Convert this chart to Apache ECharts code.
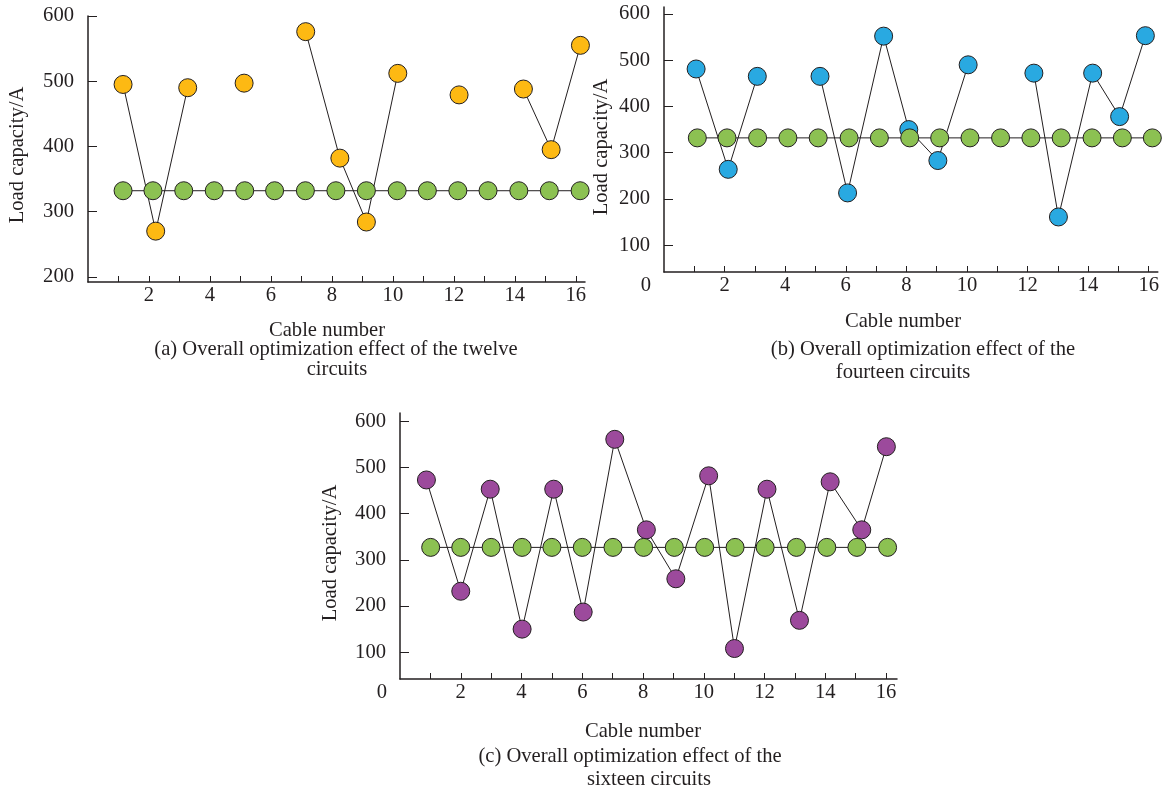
<!DOCTYPE html>
<html>
<head>
<meta charset="utf-8">
<script src="https://cdn.jsdelivr.net/npm/echarts@6/dist/echarts.min.js"></script>
<style>
    html, body { margin: 0; padding: 0; background: #fff; }
    #chart { width: 1162px; height: 791px; }
</style>
</head>
<body>
<div id="chart"></div>
<script>
// tick labels
var xTicks = [1, 2, 3, 4, 5, 6, 7, 8, 9, 10, 11, 12, 13, 14, 15, 16];
var xLabelsA = [2, 4, 6, 8, 10, 12, 14, 16];
var xLabelsBC = [0, 2, 4, 6, 8, 10, 12, 14, 16];
var yLabelsA = [200, 300, 400, 500, 600];
var yLabelsBC = [100, 200, 300, 400, 500, 600];

// (a) twelve circuits
var twelveX = [1.15, 2.22, 3.27, 5.12, 7.14, 8.26, 9.13, 10.16, 12.17, 14.28, 15.19, 16.15];
var twelveY = [495, 270, 490, 497, 576, 382, 284, 512, 479, 488, 395, 555];
var twelveLink = [1, 1, 0, 0, 1, 1, 1, 0, 0, 1, 1, 0]; // 1 = joined to next point
var baseAX = [1.15, 2.13, 3.14, 4.14, 5.14, 6.12, 7.13, 8.13, 9.13, 10.14, 11.13, 12.13, 13.12, 14.13, 15.13, 16.14];
var baseAY = [332, 332, 332, 332, 332, 332, 332, 332, 332, 332, 332, 332, 332, 332, 332, 332];

// (b) fourteen circuits
var fourteenX = [1.06, 2.12, 3.08, 5.15, 6.06, 7.25, 8.08, 9.04, 10.04, 12.21, 13.02, 14.15, 15.04, 15.89];
var fourteenY = [481, 264, 465, 465, 213, 552, 350, 283, 490, 472, 161, 472, 378, 553];
var fourteenLink = [1, 1, 0, 1, 1, 1, 1, 1, 0, 1, 1, 1, 1, 0];
var baseBX = [1.10, 2.08, 3.09, 4.09, 5.09, 6.11, 7.11, 8.11, 9.10, 10.10, 11.11, 12.11, 13.11, 14.13, 15.13, 16.12];
var baseBY = [332, 332, 332, 332, 332, 332, 332, 332, 332, 332, 332, 332, 332, 332, 332, 332];

// (c) sixteen circuits
var sixteenX = [0.87, 2.00, 2.97, 4.02, 5.06, 6.03, 7.07, 8.11, 9.08, 10.16, 11.01, 12.08, 13.15, 14.16, 15.20, 16.01];
var sixteenY = [473, 232, 453, 150, 453, 187, 561, 365, 259, 482, 108, 453, 169, 469, 365, 545];
var baseCX = [1.01, 2.00, 3.00, 4.02, 5.00, 6.00, 7.01, 8.02, 9.03, 10.03, 11.03, 12.02, 13.05, 14.05, 15.04, 16.05];
var baseCY = [327, 327, 327, 327, 327, 327, 327, 327, 327, 327, 327, 327, 327, 327, 327, 327];

var ink = '#231f20';
var serif = 'Liberation Serif, Times New Roman, serif';
var fs = 20.6;

// pair x/y, put an empty point where the line breaks
function pairs(xs, ys, links) {
    var d = [];
    for (var i = 0; i < xs.length; i++) {
        d.push([xs[i], ys[i]]);
        if (links && !links[i] && i < xs.length - 1) d.push([xs[i], '-']);
    }
    return d;
}

function xAxisOf(idx, max, labels) {
    return {
        type: 'value', gridIndex: idx, min: 0, max: max,
        axisLine: { onZero: false, lineStyle: { color: ink, width: 1.5 } },
        axisTick: { inside: true, length: 6, customValues: xTicks, lineStyle: { color: ink, width: 1 } },
        axisLabel: {
            customValues: labels, margin: 3, color: ink, fontFamily: serif, fontSize: fs,
            formatter: function (v) { return v === 0 ? '{z|0}' : String(v); },
            rich: { z: { fontFamily: serif, fontSize: fs, color: ink, padding: [0, 36, 0, 0] } }
        },
        splitLine: { show: false }
    };
}

function yAxisOf(idx, min, max, labels) {
    return {
        type: 'value', gridIndex: idx, min: min, max: max,
        axisLine: { show: true, lineStyle: { color: ink, width: 1.5 } },
        axisTick: { show: true, inside: true, length: 9, customValues: labels, lineStyle: { color: ink, width: 1 } },
        axisLabel: { customValues: labels, margin: 14, color: ink, fontFamily: serif, fontSize: fs },
        splitLine: { show: false }
    };
}

function dots(idx, data, color, z) {
    return {
        type: 'line', xAxisIndex: idx, yAxisIndex: idx, data: data, z: z,
        symbol: 'circle', symbolSize: 18, connectNulls: false,
        lineStyle: { color: ink, width: 1 },
        itemStyle: { color: color, borderColor: ink, borderWidth: 1 }
    };
}

function label(x, y, text, rot) {
    return {
        type: 'text', x: x, y: y, rotation: rot || 0,
        style: { text: text, font: fs + 'px ' + serif, fill: ink, align: 'center', verticalAlign: 'middle' }
    };
}

var option = {
    animation: false,
    backgroundColor: '#fff',
    grid: [
        { left: 88, top: 16, width: 497, height: 266 },
        { left: 664, top: 7, width: 495, height: 265 },
        { left: 400, top: 413, width: 497, height: 266 }
    ],
    xAxis: [
        xAxisOf(0, 16.3, xLabelsA),
        xAxisOf(1, 16.3, xLabelsBC),
        xAxisOf(2, 16.36, xLabelsBC)
    ],
    yAxis: [
        yAxisOf(0, 192, 600, yLabelsA),
        yAxisOf(1, 42, 615, yLabelsBC),
        yAxisOf(2, 42, 618, yLabelsBC)
    ],
    series: [
        dots(0, pairs(twelveX, twelveY, twelveLink), '#fdb913', 2),
        dots(0, pairs(baseAX, baseAY), '#8cc152', 3),
        dots(1, pairs(fourteenX, fourteenY, fourteenLink), '#29a9e1', 2),
        dots(1, pairs(baseBX, baseBY), '#8cc152', 3),
        dots(2, pairs(sixteenX, sixteenY), '#9c4a9c', 2),
        dots(2, pairs(baseCX, baseCY), '#8cc152', 3)
    ],
    graphic: [
        label(18, 155, 'Load capacity/A', Math.PI / 2),
        label(602, 147, 'Load capacity/A', Math.PI / 2),
        label(331, 553, 'Load capacity/A', Math.PI / 2),
        label(327, 331, 'Cable number'),
        label(336, 350, '(a) Overall optimization effect of the twelve'),
        label(337, 370, 'circuits'),
        label(903, 322, 'Cable number'),
        label(923, 350, '(b) Overall optimization effect of the'),
        label(903, 373, 'fourteen circuits'),
        label(643, 732, 'Cable number'),
        label(630, 757, '(c) Overall optimization effect of the'),
        label(649, 780, 'sixteen circuits')
    ]
};

var chart = echarts.init(document.getElementById('chart'));
chart.setOption(option);
</script>
</body>
</html>
